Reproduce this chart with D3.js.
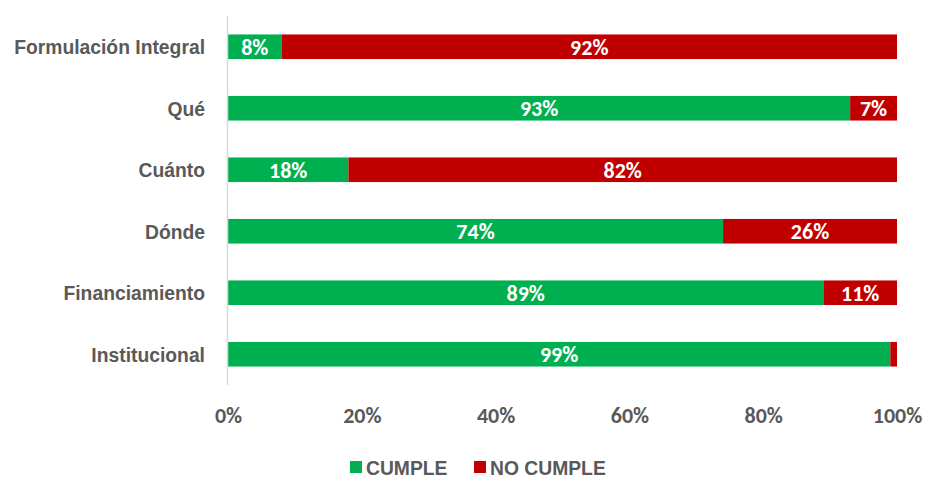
<!DOCTYPE html>
<head>
  <meta charset="utf-8">
  <script src="https://d3js.org/d3.v7.min.js"></script>
  <style>
    body { margin:0; background:#fff; }
    .cat { font-family: "Liberation Sans", Arial, sans-serif; font-weight: bold; font-size: 21px; fill: #595959; }
    .tick text { font-family: Carlito, Lato, "Open Sans", sans-serif; font-weight: bold; font-size: 22px; fill: #595959; }
    .lbl { font-family: Carlito, Lato, "Open Sans", sans-serif; font-weight: bold; font-size: 22px; fill: #fff; }
    .leg { font-family: "Liberation Sans", Arial, sans-serif; font-weight: bold; font-size: 21px; fill: #595959; }
  </style>
</head>
<body>
<script>
  // data
  var categories = ["Formulación Integral", "Qué", "Cuánto", "Dónde", "Financiamiento", "Institucional"];
  var cumple    = [8, 93, 18, 74, 89, 99];
  var noCumple  = [92, 7, 82, 26, 11, 1];
  var seriesNames = ["CUMPLE", "NO CUMPLE"];
  var colors = ["#00B050", "#C00000"];
  var tickValues = [0, 20, 40, 60, 80, 100];

  var width = 925, height = 478;

  var svg = d3.select("body").append("svg")
    .attr("width", width)
    .attr("height", height);

  var x = d3.scaleLinear().domain([0, 100]).range([228, 897]);
  var y = d3.scaleBand().domain(categories).range([16, 385]).paddingInner(0.6).paddingOuter(0.3);

  var rows = categories.map(function(c, i) {
    return { cat: c, segs: [
      { v0: 0, v1: cumple[i], val: cumple[i], color: colors[0] },
      { v0: cumple[i], v1: cumple[i] + noCumple[i], val: noCumple[i], color: colors[1] }
    ]};
  });

  // x axis (labels only)
  var xAxis = svg.append("g")
    .attr("transform", "translate(0,415)")
    .call(d3.axisBottom(x).tickValues(tickValues).tickFormat(function(d) { return d + "%"; }).tickSize(0));
  xAxis.select(".domain").remove();
  xAxis.selectAll("text").attr("dy", "0.35em").attr("y", 0);

  var row = svg.selectAll("g.row")
    .data(rows)
    .enter().append("g")
    .attr("class", "row");

  row.selectAll("rect")
    .data(function(d) { return d.segs; })
    .enter().append("rect")
    .attr("x", function(d) { return x(d.v0); })
    .attr("width", function(d) { return x(d.v1) - x(d.v0); })
    .attr("y", function(d) { return y(d3.select(this.parentNode).datum().cat); })
    .attr("height", y.bandwidth())
    .attr("fill", function(d) { return d.color; });

  row.selectAll("text.lbl")
    .data(function(d) { return d.segs.filter(function(s) { return s.val >= 5; }).map(function(s) { return Object.assign({cat: d.cat}, s); }); })
    .enter().append("text")
    .attr("class", "lbl")
    .attr("x", function(d) { return (x(d.v0) + x(d.v1)) / 2; })
    .attr("y", function(d) { return y(d.cat) + y.bandwidth() / 2; })
    .attr("dy", "0.36em")
    .attr("text-anchor", "middle")
    .text(function(d) { return d.val + "%"; });

  // category labels (narrowed to mimic Arial Narrow)
  var cats = svg.selectAll("text.cat")
    .data(categories)
    .enter().append("text")
    .attr("class", "cat")
    .attr("dy", "0.36em")
    .attr("text-anchor", "end")
    .text(function(d) { return d; });
  var longest = cats.filter(function(d, i) { return i === 0; }).node().getComputedTextLength();
  var sx = 191 / longest;
  cats.attr("transform", function(d) {
    return "translate(205," + (y(d) + y.bandwidth() / 2) + ") scale(" + sx + ",1)";
  });

  // vertical axis line
  svg.append("line")
    .attr("x1", 227.5).attr("x2", 227.5)
    .attr("y1", 16).attr("y2", 385)
    .attr("stroke", "#d9d9d9").attr("stroke-width", 1.5);

  // legend
  var legX = [350, 474];
  var leg = svg.selectAll("g.leg")
    .data(seriesNames)
    .enter().append("g")
    .attr("transform", function(d, i) { return "translate(" + legX[i] + ",467)"; });
  leg.append("rect")
    .attr("x", 0).attr("y", -6).attr("width", 12).attr("height", 12)
    .attr("fill", function(d, i) { return colors[i]; });
  leg.append("text")
    .attr("class", "leg")
    .attr("transform", "translate(16,0) scale(" + sx + ",1)")
    .attr("dy", "0.36em")
    .text(function(d) { return d; });
</script>
</body>
